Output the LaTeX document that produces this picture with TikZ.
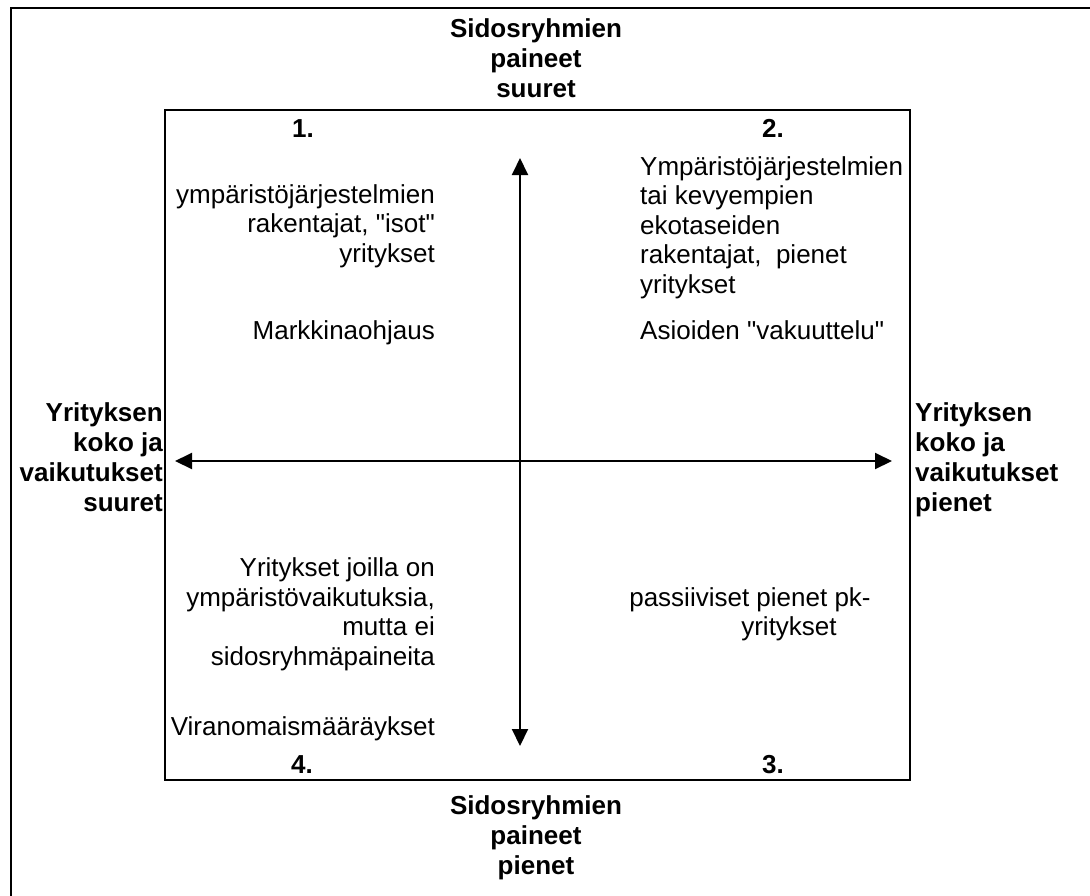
\documentclass[tikz,border=0pt]{standalone}
\usepackage{fontspec}
\setmainfont{Liberation Sans}[Ligatures=TeXOff]
\usetikzlibrary{arrows.meta}
\tikzset{
  txt/.style={inner sep=0pt, font=\fontsize{26}{29.5}\selectfont},
  ttl/.style={txt, font=\fontsize{26}{30}\selectfont\bfseries, align=center},
  num/.style={txt, font=\fontsize{26}{30}\selectfont\bfseries},
  frame/.style={line width=2.6pt},
  axis/.style={line width=2pt, {Triangle[length=17pt,width=16pt]}-{Triangle[length=17pt,width=16pt]}}
}
\begin{document}
\begin{tikzpicture}[x=1pt,y=-1pt]
\useasboundingbox (0,0) rectangle (1090,895);
\clip (0,0) rectangle (1090,895);
% outer frame (only top and left visible)
\draw[frame] (11,900) -- (11,8) -- (1095,8);
% inner box
\draw[frame] (165,110) rectangle (910,780);
% axes
\coordinate (vt) at (520,158);
\coordinate (vb) at (520,746);
\coordinate (hl) at (175,461);
\coordinate (hr) at (892,461);
\draw[axis] (vb) -- (vt);
\draw[axis] (hl) -- (hr);
% titles (base = baseline of last line)
\node[ttl, anchor=base] (top) at (536,97) {Sidosryhmien\\paineet\\suuret};
\node[ttl, anchor=base] (bot) at (536,874) {Sidosryhmien\\paineet\\pienet};
\node[ttl, align=right, anchor=base east] (left) at (163,511) {Yrityksen\\koko ja\\vaikutukset\\suuret};
\node[ttl, align=left, anchor=base west] (right) at (915,511) {Yrityksen\\koko ja\\vaikutukset\\pienet};
% quadrant numbers
\node[num, anchor=base] (n1) at (303,137) {1.};
\node[num, anchor=base] (n2) at (773,137) {2.};
\node[num, anchor=base] (n4) at (302,773) {4.};
\node[num, anchor=base] (n3) at (773,773) {3.};
% quadrant 1
\node[txt, align=right, anchor=base east] (q1a) at (435,262) {ympäristöjärjestelmien\\rakentajat, "isot"\\yritykset};
\node[txt, anchor=base east] (q1b) at (435,339) {Markkinaohjaus};
% quadrant 2
\node[txt, align=left, anchor=base west] (q2a) at (640,293) {Ympäristöjärjestelmien\\tai kevyempien\\ekotaseiden\\rakentajat,\ \ pienet\\yritykset};
\node[txt, anchor=base west] (q2b) at (640,339) {Asioiden "vakuuttelu"};
% quadrant 4
\node[txt, align=right, anchor=base east] (q4a) at (435,665) {Yritykset joilla on\\ympäristövaikutuksia,\\mutta ei\\sidosryhmäpaineita};
\node[txt, anchor=base east] (q4b) at (435,735) {Viranomaismääräykset};
% quadrant 3
\node[txt, anchor=base] (q3a) at (750,606) {passiiviset pienet pk-};
\node[txt, anchor=base] (q3b) at (789,635) {yritykset};
\end{tikzpicture}
\end{document}
